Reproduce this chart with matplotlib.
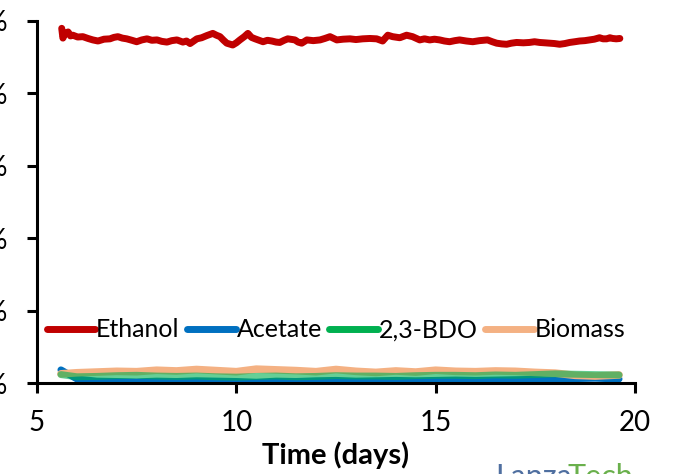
import matplotlib
matplotlib.use("Agg")
from matplotlib import pyplot as plt

plt.rcParams['font.family'] = ['Lato', 'DejaVu Sans']

# ethanol selectivity
days_eth = [5.62, 5.65, 5.70, 5.78, 5.84, 5.90, 6.02, 6.15, 6.28, 6.40, 6.53, 6.68, 6.83,
            6.93, 7.03, 7.14, 7.25, 7.38, 7.50, 7.63, 7.76, 7.88, 8.01, 8.13, 8.26, 8.38,
            8.51, 8.66, 8.75, 8.84, 9.01, 9.13, 9.26, 9.41, 9.50, 9.59, 9.68, 9.76, 9.91,
            10.00, 10.09, 10.20, 10.29, 10.38, 10.47, 10.57, 10.67, 10.78, 10.89, 11.00,
            11.09, 11.20, 11.29, 11.47, 11.55, 11.64, 11.77, 11.93, 12.10, 12.22, 12.35,
            12.52, 12.68, 12.85, 13.00, 13.17, 13.35, 13.52, 13.67, 13.80, 13.92, 14.10,
            14.27, 14.42, 14.60, 14.72, 14.85, 14.97, 15.10, 15.22, 15.35, 15.48, 15.60,
            15.77, 15.93, 16.10, 16.30, 16.42, 16.53, 16.66, 16.78, 16.90, 17.03, 17.20,
            17.35, 17.48, 17.61, 17.74, 17.86, 17.98, 18.11, 18.24, 18.36, 18.49, 18.61,
            18.74, 18.86, 18.98, 19.11, 19.20, 19.29, 19.37, 19.44, 19.53, 19.62]
ethanol = [97.9, 95.2, 96.4, 96.9, 95.8, 96.0, 95.5, 95.6, 95.1, 94.7, 94.4, 94.9, 95.0,
           95.4, 95.6, 95.2, 95.0, 94.6, 94.2, 94.7, 95.0, 94.6, 94.7, 94.3, 94.1, 94.5,
           94.7, 94.1, 94.4, 93.7, 95.0, 95.3, 95.9, 96.5, 96.0, 95.6, 94.6, 93.8, 93.3,
           93.9, 94.7, 95.6, 96.5, 95.4, 95.0, 94.6, 94.2, 94.6, 94.4, 94.1,
           94.0, 94.6, 95.0, 94.7, 94.1, 93.8, 94.7, 94.5, 94.7, 95.1, 95.6,
           94.7, 94.9, 95.0, 94.8, 95.0, 95.1, 95.0, 94.4, 96.0, 95.6, 95.3,
           96.0, 95.6, 94.7, 95.0, 94.7, 94.9, 94.7, 94.4, 94.2, 94.5, 94.7,
           94.4, 94.2, 94.5, 94.7, 94.2, 93.8, 93.6, 93.5, 93.8, 94.0, 93.9,
           94.0, 94.2, 94.0, 93.9, 93.8, 93.7, 93.5, 93.7, 94.0, 94.2, 94.4,
           94.5, 94.7, 94.9, 95.3, 95.0, 95.0, 95.3, 95.1, 95.0, 95.1]

# minor products
days_min = [5.6, 6.0, 6.5, 7.0, 7.5, 8.0, 8.5, 9.0, 9.5, 10.0, 10.5, 11.0, 11.5, 12.0,
            12.5, 13.0, 13.5, 14.0, 14.5, 15.0, 15.5, 16.0, 16.5, 17.0, 17.5, 18.0,
            18.5, 19.0, 19.6]
acetate = [3.7, 1.2, 0.6, 0.5, 0.4, 0.6, 0.5, 0.7, 0.6, 0.5, 0.3, 0.6, 0.5, 0.7,
           0.8, 0.6, 0.7, 0.8, 0.7, 0.8, 0.9, 0.8, 0.9, 1.0, 1.1, 0.9, 1.3, 1.4, 1.2]
bdo = [2.4, 1.8, 1.9, 2.1, 2.2, 2.0, 1.9, 2.0, 1.8, 1.7, 1.9, 2.0, 1.8, 1.9,
       2.1, 2.0, 2.0, 1.9, 2.1, 2.2, 2.2, 2.1, 2.3, 2.2, 2.4, 2.6, 2.5, 2.4, 2.3]
biomass = [2.6, 2.9, 3.1, 3.3, 3.2, 3.6, 3.4, 3.8, 3.5, 3.2, 3.9, 3.7, 3.5, 3.2,
           3.8, 3.3, 3.0, 3.4, 3.1, 3.6, 3.3, 3.2, 3.4, 3.3, 3.0, 2.8, 2.2, 2.0, 2.3]

x_ticks = [5, 10, 15, 20]
y_ticks = [0, 20, 40, 60, 80, 100]

fig = plt.figure(figsize=(6.73, 4.74), dpi=100)
ax = fig.add_axes([37/673, 90.7/474, 598/673, 362.6/474])

ax.plot(days_eth, ethanol, color='#C00000', lw=5, label='Ethanol', solid_capstyle='round')
ax.plot(days_min, acetate, color='#0070C0', lw=5, label='Acetate', solid_capstyle='round')
ax.plot(days_min, biomass, color='#F4B183', lw=5.5, label='Biomass', solid_capstyle='round')
ax.plot(days_min, bdo, color='#00B050', lw=5, alpha=0.6, label='2,3-BDO', solid_capstyle='round')

ax.set_xlim(5, 20)
ax.set_ylim(0, 100)
ax.set_xticks(x_ticks)
ax.set_yticks(y_ticks)
ax.set_yticklabels([f'{v}%' for v in y_ticks])
for s in ['top', 'right']:
    ax.spines[s].set_visible(False)
for s in ['left', 'bottom']:
    ax.spines[s].set_linewidth(2.2)
    ax.spines[s].set_zorder(5)
ax.tick_params(axis='both', width=2.2, length=7, labelsize=20)
ax.tick_params(axis='y', pad=14)
ax.tick_params(axis='x', pad=12)
ax.set_xlabel('Time (days)', fontsize=21, fontweight='bold', labelpad=4)

h, l = ax.get_legend_handles_labels()
order = [0, 1, 3, 2]
leg = ax.legend([h[i] for i in order], [l[i] for i in order], ncol=4, frameon=False,
                loc='center', bbox_to_anchor=(0.5, 0.147), fontsize=18,
                handlelength=1.95, handletextpad=0.03, columnspacing=0.3, borderaxespad=0)
for line in leg.get_lines():
    line.set_linewidth(5)
    line.set_alpha(1)

fig.text(495/673, 1 - 463/474, 'Lanza', color='#4F6FA0', fontsize=22, va='top', ha='left')
fig.text(567/673, 1 - 463/474, 'Tech', color='#6AB04C', fontsize=22, va='top', ha='left')

fig.savefig('out.png', dpi=100)
